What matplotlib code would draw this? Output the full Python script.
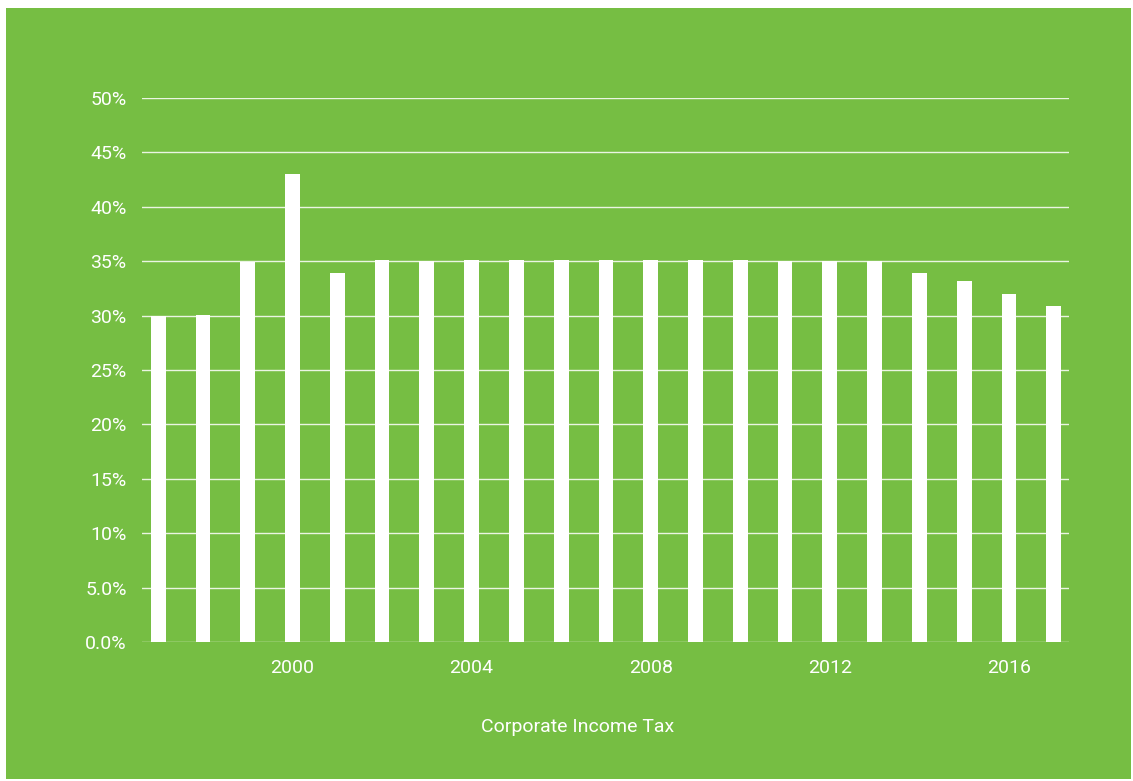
import matplotlib.pyplot as plt
from matplotlib.patches import Rectangle

years = list(range(1997, 2018))
rates = [30.0, 30.05, 34.95, 43.0, 33.9, 35.1, 35.0, 35.1, 35.1, 35.1, 35.1, 35.1,
         35.1, 35.1, 35.0, 35.0, 35.0, 33.9, 33.2, 32.0, 30.9]
ytick_vals = [0, 5, 10, 15, 20, 25, 30, 35, 40, 45, 50]
ytick_labels = ["0.0%", "5.0%", "10%", "15%", "20%", "25%", "30%", "35%", "40%", "45%", "50%"]
xtick_vals = [2000, 2004, 2008, 2012, 2016]
x_title = "Corporate Income Tax"

green = "#76be43"
W, H = 1133, 781

plt.rcParams['font.family'] = ['Roboto', 'DejaVu Sans']

fig = plt.figure(figsize=(W / 100, H / 100), dpi=100)
fig.patch.set_facecolor("white")
# green panel with a thin white margin (drawn behind the axes)
fig.patches.append(Rectangle((6 / W, 1 - 779 / H), (1131 - 6) / W, (779 - 8) / H,
                             transform=fig.transFigure, facecolor=green,
                             edgecolor="none", zorder=-10))

ax = fig.add_axes([142 / W, 1 - 642 / H, (1069 - 142) / W, (642 - 98) / H])
ax.set_facecolor("none")

ax.bar(years, rates, width=0.33, color="white", zorder=3)

ax.set_xlim(1996.64, 2017.34)
ax.set_ylim(0, 50)
ax.set_yticks(ytick_vals)
ax.set_yticklabels(ytick_labels)
ax.set_xticks(xtick_vals)
ax.set_xticklabels([str(v) for v in xtick_vals])

ax.grid(axis="y", color="white", linewidth=1.0, alpha=0.85, zorder=1)
ax.tick_params(axis="both", length=0, colors="white", labelsize=14)
ax.tick_params(axis="y", pad=11)
ax.tick_params(axis="x", pad=12)
for s in ax.spines.values():
    s.set_visible(False)

fig.text(578 / W, 1 - 727 / H, x_title, color="white", fontsize=14,
         ha="center", va="center")

fig.savefig("out.png", dpi=100)
